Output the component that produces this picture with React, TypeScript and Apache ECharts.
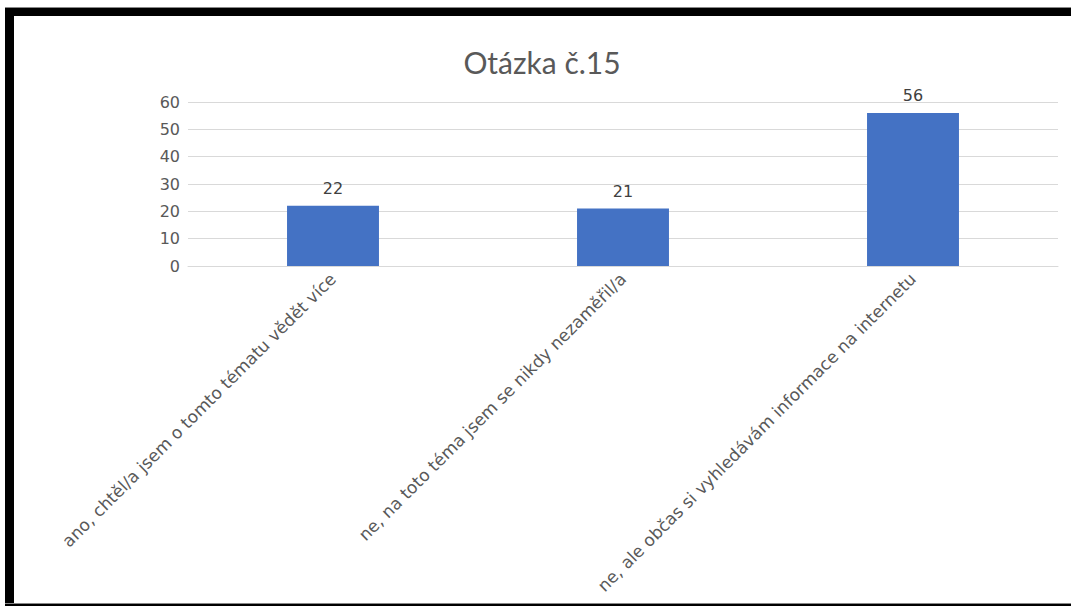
import React, { useEffect, useRef } from "react";
import * as echarts from "echarts";

const categories = [
  "ano, chtěl/a jsem o tomto tématu vědět více",
  "ne, na toto téma jsem se nikdy nezaměřil/a",
  "ne, ale občas si vyhledávám informace na internetu",
];
const values = [22, 21, 56];
const yTicks = [0, 10, 20, 30, 40, 50, 60];
const titleText = "Otázka č.15";

export default function App() {
  const ref = useRef<HTMLDivElement>(null);
  useEffect(() => {
    if (!ref.current) return;
    const chart = echarts.init(ref.current, undefined, { renderer: "svg" });
    const font = "Lato, 'Open Sans', sans-serif";
    const wide = "'DejaVu Sans', sans-serif";
    chart.setOption({
      animation: false,
      backgroundColor: "#ffffff",
      title: {
        text: titleText,
        left: 537,
        top: 42,
        textAlign: "center",
        textStyle: { fontFamily: font, fontSize: 30, fontWeight: "normal", color: "#595959" },
      },
      grid: { left: 188, right: 13, top: 102, bottom: 340, containLabel: false },
      xAxis: {
        type: "category",
        data: categories,
        axisLine: { show: true, lineStyle: { color: "#d9d9d9", width: 1 } },
        axisTick: { show: false },
        axisLabel: {
          rotate: 45,
          interval: 0,
          margin: 10,
          fontFamily: wide,
          fontSize: 17,
          color: "#595959",
        },
      },
      yAxis: {
        type: "value",
        min: yTicks[0],
        max: yTicks[yTicks.length - 1],
        interval: 10,
        axisLine: { show: false },
        axisTick: { show: false },
        axisLabel: { margin: 8, fontFamily: wide, fontSize: 16, color: "#595959" },
        splitLine: { lineStyle: { color: "#d9d9d9", width: 1 } },
      },
      series: [
        {
          type: "bar",
          data: values,
          barWidth: "31.7%",
          itemStyle: { color: "#4472C4" },
          label: {
            show: true,
            position: "top",
            distance: 9,
            fontFamily: wide,
            fontSize: 16,
            color: "#404040",
          },
        },
      ],
      graphic: [
        { type: "rect", shape: { x: 5, y: 7, width: 1066, height: 1 }, style: { fill: "#888888" } },
        { type: "rect", shape: { x: 5, y: 8, width: 1066, height: 8 }, style: { fill: "#000000" } },
        { type: "rect", shape: { x: 5, y: 8, width: 9, height: 598 }, style: { fill: "#000000" } },
        { type: "rect", shape: { x: 5, y: 603, width: 1066, height: 1 }, style: { fill: "#888888" } },
        { type: "rect", shape: { x: 5, y: 604, width: 1066, height: 2 }, style: { fill: "#000000" } },
      ],
    });
    return () => chart.dispose();
  }, []);
  return (
    <div
      ref={ref}
      style={{ position: "fixed", left: 0, top: 0, width: 1071, height: 606 }}
    />
  );
}
